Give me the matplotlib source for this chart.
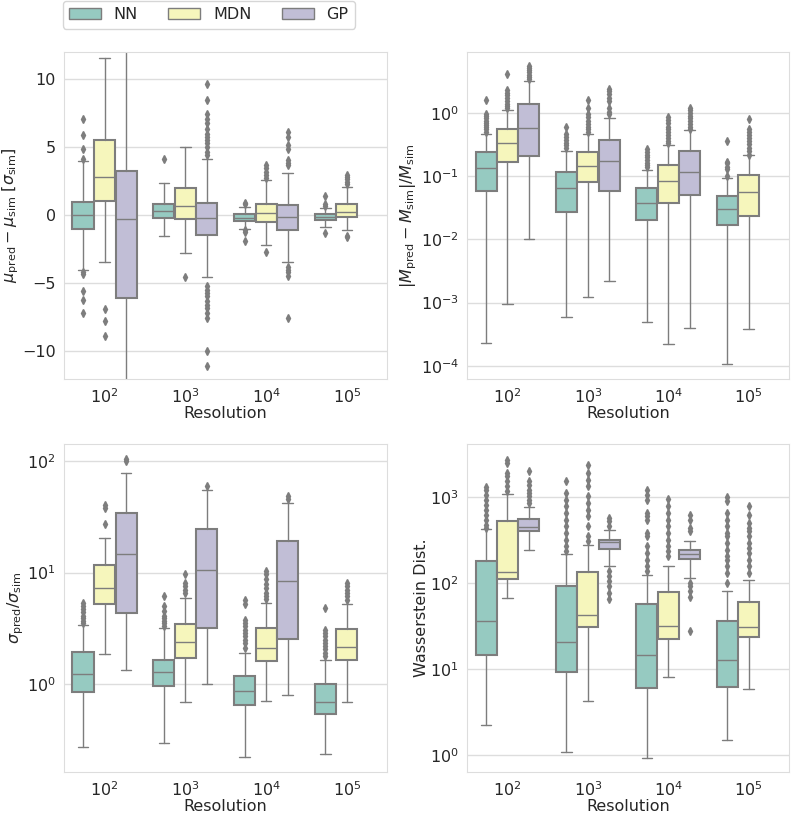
import numpy as np
import matplotlib.pyplot as plt
import seaborn as sns
from matplotlib.patches import Patch

sns.set_style("whitegrid")
plt.rcParams['font.family'] = ['DejaVu Sans']

models = ["NN", "MDN", "GP"]
resolutions = ["$10^2$", "$10^3$", "$10^4$", "$10^5$"]

# --- panel 1: mu_pred - mu_sim  (rows: NN, MDN, GP ; cols: 1e2..1e5, None = no run)
mu_med = [[0.0, 0.32, -0.2, -0.1], [2.79, 0.71, 0.15, 0.24], [-0.3, -0.22, -0.15, None]]
mu_q1 = [[-1.03, -0.22, -0.39, -0.34], [1.05, -0.29, -0.46, -0.15], [-6.06, -1.44, -1.08, None]]
mu_q3 = [[1.0, 0.83, 0.07, 0.07], [5.53, 1.98, 0.8, 0.83], [3.25, 0.88, 0.76, None]]
mu_lo = [[-4.0, -1.54, -1.03, -0.88], [-3.47, -2.79, -2.18, -1.08], [-30.0, -4.52, -3.47, None]]
mu_hi = [[4.0, 2.35, 0.6, 0.55], [11.6, 5.0, 2.6, 2.08], [30.0, 4.15, 3.08, None]]
mu_fliers = [
    [[4.15, 4.85, 5.9, 7.1, -4.2, -4.3, -5.6, -6.2, -7.2], [4.15], [0.8, 0.9, -1.1, -1.25, -1.86],
     [0.7, 0.8, 1.42, -1.27]],
    [[-6.9, -7.75, -8.9], [-4.55], [3.69, 3.45, 3.2, 2.96, 2.71, -2.69],
     [2.3, 2.47, 2.7, 2.85, 2.96, -1.52, -1.6]],
    [[], [9.63, 8.46, 7.43, 7.11, 6.75, 6.38, 6.01, 5.77, 5.53, 5.28, 5.04, 4.67, 4.43,
          -5.18, -5.48, -5.72, -5.97, -6.33, -6.58, -6.82, -7.19, -7.55, -10.0, -11.1],
     [6.1, 5.75, 5.15, 4.9, 4.05, 3.85, 3.7, -3.77, -4.0, -4.2, -4.45, -7.55], None],
]

# --- panel 2: |M_pred - M_sim| / M_sim
m_med = [[0.137, 0.066, 0.038, 0.030], [0.336, 0.147, 0.084, 0.0566], [0.586, 0.175, 0.116, None]]
m_q1 = [[0.0586, 0.027, 0.02, 0.017], [0.168, 0.082, 0.038, 0.0236], [0.21, 0.058, 0.05, None]]
m_q3 = [[0.242, 0.117, 0.065, 0.048], [0.559, 0.24, 0.149, 0.106], [1.37, 0.38, 0.25, None]]
m_lo = [[2.3e-4, 6.0e-4, 4.9e-4, 1.07e-4], [9.4e-4, 1.23e-3, 2.25e-4, 3.8e-4], [0.01, 2.2e-3, 3.9e-4, None]]
m_hi = [[0.472, 0.25, 0.124, 0.093], [1.13, 0.47, 0.316, 0.215], [3.16, 0.84, 0.53, None]]
m_fliers = [
    [[1.62, 0.98, 0.9, 0.82, 0.75, 0.7, 0.65, 0.6, 0.55, 0.5],
     [0.6, 0.47, 0.42, 0.38, 0.34, 0.31, 0.28],
     [0.27, 0.24, 0.22, 0.2, 0.18, 0.16, 0.15, 0.14],
     [0.36, 0.17, 0.16, 0.14, 0.13, 0.1]],
    [[4.2, 2.3, 2.1, 1.9, 1.7, 1.55, 1.4, 1.3, 1.2],
     [1.62, 1.2, 0.95, 0.85, 0.75, 0.68, 0.6, 0.55, 0.5],
     [0.86, 0.78, 0.7, 0.6, 0.55, 0.5, 0.45, 0.4, 0.36, 0.33],
     [0.81, 0.55, 0.5, 0.45, 0.4, 0.36, 0.32, 0.28, 0.25, 0.22]],
    [[5.6, 5.2, 4.8, 4.4, 4.0, 3.7, 3.4],
     [2.4, 2.2, 2.0, 1.75, 1.55, 1.2, 1.05, 0.95],
     [1.2, 1.1, 1.0, 0.9, 0.82, 0.75, 0.68, 0.6, 0.56], None],
]

# --- panel 3: sigma_pred / sigma_sim
s_med = [[1.23, 1.27, 0.86, 0.69], [7.28, 2.37, 2.1, 2.15], [14.7, 10.6, 8.47, None]]
s_q1 = [[0.853, 0.97, 0.652, 0.542], [5.2, 1.71, 1.62, 1.64], [4.31, 3.16, 2.54, None]]
s_q3 = [[1.94, 1.63, 1.19, 1.0], [11.6, 3.46, 3.18, 3.1], [34.1, 24.7, 19.0, None]]
s_lo = [[0.275, 0.295, 0.22, 0.237], [1.86, 0.69, 0.70, 0.69], [1.33, 1.0, 0.796, None]]
s_hi = [[3.37, 3.18, 1.9, 1.64], [20.3, 5.92, 5.34, 5.26], [78.5, 55.0, 41.7, None]]
s_fliers = [
    [[5.3, 5.0, 4.7, 4.4, 4.1, 3.9, 3.7, 3.5],
     [6.1, 5.0, 4.5, 4.1, 3.9, 3.7, 3.5, 3.3],
     [5.7, 5.27, 3.78, 3.53, 3.3, 3.08, 2.87, 2.68, 2.5, 2.33, 2.1],
     [4.8, 3.07, 2.85, 2.7, 2.5, 2.35, 2.2, 2.05, 1.9, 1.77]],
    [[40.0, 38.0, 27.4], [9.7, 8.0, 7.5, 7.0, 6.5],
     [10.3, 9.6, 8.7, 7.9, 7.3, 6.6, 6.2, 5.8], [8.07, 7.5, 7.0, 6.5, 6.1, 5.7]],
    [[104.0, 100.0], [60.0], [49.0, 46.0], None],
]

# --- panel 4: Wasserstein distance
w_med = [[36.3, 20.5, 14.7, 12.8], [134.0, 42.7, 31.7, 31.0], [452.0, 305.0, 221.0, None]]
w_q1 = [[14.6, 9.2, 6.0, 6.3], [113.0, 30.7, 22.6, 23.9], [401.0, 252.0, 191.0, None]]
w_q3 = [[180.0, 92.0, 57.3, 36.6], [525.0, 135.0, 79.8, 61.0], [560.0, 321.0, 241.0, None]]
w_lo = [[2.25, 1.09, 0.94, 1.5], [67.5, 4.26, 8.2, 5.82], [241.0, 158.0, 115.0, None]]
w_hi = [[428.0, 218.0, 126.0, 80.5], [1094.0, 276.0, 160.0, 109.0], [772.0, 420.0, 307.0, None]]
w_fliers = [
    [[1306, 1228, 1074, 940, 822, 718, 628, 550, 481, 440],
     [1536, 1123, 940, 786, 657, 550, 459, 384, 321, 269, 235],
     [1228, 1074, 940, 657, 601, 550, 384, 351, 269, 225, 188, 157, 138],
     [1008, 898, 657, 550, 459, 384, 351, 294, 246, 206, 188, 157, 131, 101]],
    [[2740, 2512, 1918, 1757, 1536, 1343, 1175],
     [2360, 1918, 1606, 1343, 1027, 859, 718, 601, 459, 351, 307],
     [955, 786, 657, 550, 459, 384, 321, 269, 235, 206],
     [786, 628, 502, 440, 402, 351, 294, 257, 225, 188, 157, 131]],
    [[2010, 1536, 1403, 1228, 1123, 1027, 940, 859],
     [569, 525, 468, 137, 120, 105, 92, 77, 65],
     [628, 550, 440, 402, 102, 92, 80.5, 70, 27.6], None],
]

panels = [
    (mu_med, mu_q1, mu_q3, mu_lo, mu_hi, mu_fliers,
     r"$\mu_{\rm pred} - \mu_{\rm sim}$ [$\sigma_{\rm sim}$]", False, (-12, 12)),
    (m_med, m_q1, m_q3, m_lo, m_hi, m_fliers,
     r"$|M_{\rm pred} - M_{\rm sim}|/M_{\rm sim}$", True, (6.3e-5, 9.2)),
    (s_med, s_q1, s_q3, s_lo, s_hi, s_fliers,
     r"$\sigma_{\rm pred}/\sigma_{\rm sim}$", True, (0.164, 143)),
    (w_med, w_q1, w_q3, w_lo, w_hi, w_fliers,
     "Wasserstein Dist.", True, (0.645, 4200)),
]

palette = [sns.desaturate(c, 0.75) for c in ["#8dd3c7", "#ffffb3", "#bebada"]]
gray = "#7d7d7d"
fs = 11.5

fig = plt.figure(figsize=(7.92, 8.14), dpi=100)
rects = [
    [0.081, 0.535, 0.408, 0.401],
    [0.590, 0.535, 0.406, 0.401],
    [0.081, 0.052, 0.408, 0.403],
    [0.590, 0.052, 0.406, 0.403],
]

n = len(models)
each = 0.8 / n
offsets = np.linspace(0, 0.8 - each, n) - (0.8 - each) / 2

for rect, (med, q1, q3, lo, hi, fl, ylab, logy, ylim) in zip(rects, panels):
    ax = fig.add_axes(rect)
    for j in range(n):
        stats, pos = [], []
        for i in range(len(resolutions)):
            if med[j][i] is None:
                continue
            stats.append(dict(med=med[j][i], q1=q1[j][i], q3=q3[j][i],
                              whislo=lo[j][i], whishi=hi[j][i], fliers=fl[j][i]))
            pos.append(i + offsets[j])
        ax.bxp(stats, positions=pos, widths=each * 0.98, patch_artist=True,
               boxprops=dict(facecolor=palette[j], edgecolor=gray, linewidth=1.5),
               medianprops=dict(color=gray, linewidth=1.0),
               whiskerprops=dict(color=gray, linewidth=1.0),
               capprops=dict(color=gray, linewidth=1.0),
               flierprops=dict(marker="d", markersize=4, markerfacecolor=gray,
                               markeredgecolor=gray, linestyle="none"),
               manage_ticks=False)
    if logy:
        ax.set_yscale("log")
    ax.set_ylim(*ylim)
    ax.set_xlim(-0.5, len(resolutions) - 0.5)
    ax.set_xticks(range(len(resolutions)))
    ax.set_xticklabels(resolutions)
    ax.xaxis.grid(False)
    ax.yaxis.grid(True, color="#dddddd", linewidth=1.0)
    ax.minorticks_off()
    ax.tick_params(labelsize=fs, pad=2.5)
    ax.set_xlabel("Resolution", fontsize=fs, labelpad=0.5)
    ax.set_ylabel(ylab, fontsize=fs, labelpad=1)
    for sp in ax.spines.values():
        sp.set_color("#dddddd")

handles = [Patch(facecolor=palette[j], edgecolor=gray, label=models[j]) for j in range(n)]
fig.legend(handles=handles, loc="upper left", bbox_to_anchor=(0.079, 0.999),
           ncol=3, fontsize=fs, frameon=True, borderaxespad=0, columnspacing=1.9)

fig.savefig("out.png", dpi=100)
